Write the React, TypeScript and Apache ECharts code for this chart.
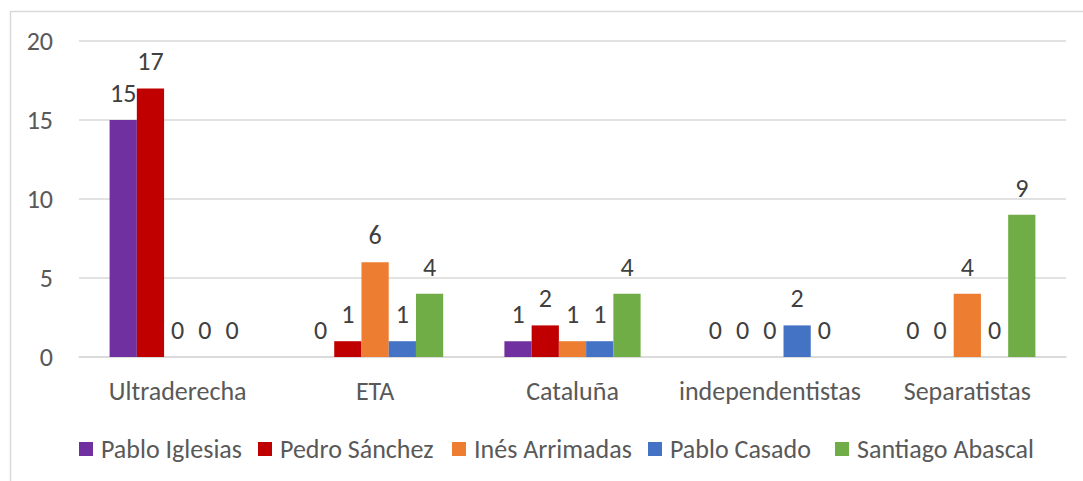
import React, { useEffect, useRef } from "react";
import * as echarts from "echarts";

const categories = ["Ultraderecha", "ETA", "Cataluña", "independentistas", "Separatistas"];
const seriesNames = ["Pablo Iglesias", "Pedro Sánchez", "Inés Arrimadas", "Pablo Casado", "Santiago Abascal"];
const pabloIglesias = [15, 0, 1, 0, 0];
const pedroSanchez = [17, 1, 2, 0, 0];
const inesArrimadas = [0, 6, 1, 0, 4];
const pabloCasado = [0, 1, 1, 2, 0];
const santiagoAbascal = [0, 4, 4, 0, 9];
const colors = ["#7030a0", "#c00000", "#ed7d31", "#4472c4", "#70ad47"];
const legendLefts = [79, 258, 452, 648, 835];

const FONT = "Carlito, Lato, sans-serif";
const FS = 26;

export default function App() {
  const ref = useRef<HTMLDivElement>(null);
  useEffect(() => {
    if (!ref.current) return;
    const chart = echarts.init(ref.current, null, { renderer: "svg" });
    const values = [pabloIglesias, pedroSanchez, inesArrimadas, pabloCasado, santiagoAbascal];
    chart.setOption({
      animation: false,
      backgroundColor: "#ffffff",
      graphic: [
        {
          type: "rect",
          shape: { x: 10.5, y: 11.5, width: 1200, height: 600 },
          style: { fill: "none", stroke: "#d9d9d9", lineWidth: 1.5 },
          silent: true,
        },
      ],
      grid: { left: 79, right: 17, top: 41, bottom: 124 },
      legend: seriesNames.map((name, i) => ({
        bottom: 19,
        left: legendLefts[i],
        padding: 0,
        itemWidth: 14,
        itemHeight: 14,
        icon: "rect",
        textStyle: { fontFamily: FONT, fontSize: FS, color: "#595959", padding: [0, 0, 0, 3] },
        data: [name],
      })),
      xAxis: {
        type: "category",
        data: categories,
        axisLine: { lineStyle: { color: "#d9d9d9", width: 1.5 } },
        axisTick: { show: false },
        axisLabel: { fontFamily: FONT, fontSize: FS, color: "#595959", margin: 21, interval: 0 },
      },
      yAxis: {
        type: "value",
        min: 0,
        max: 20,
        interval: 5,
        axisLine: { show: false },
        axisTick: { show: false },
        splitLine: { lineStyle: { color: "#d9d9d9", width: 1.5 } },
        axisLabel: { fontFamily: FONT, fontSize: FS, color: "#595959", margin: 26 },
      },
      series: seriesNames.map((name, i) => ({
        name,
        type: "bar",
        data: values[i],
        barGap: "0%",
        barCategoryGap: "31%",
        itemStyle: { color: colors[i] },
        label: {
          show: true,
          position: "top",
          distance: 14,
          fontFamily: FONT,
          fontSize: FS,
          color: "#404040",
        },
      })),
    });
    return () => chart.dispose();
  }, []);
  return <div ref={ref} style={{ position: "fixed", left: 0, top: 0, width: 1083, height: 481 }} />;
}
